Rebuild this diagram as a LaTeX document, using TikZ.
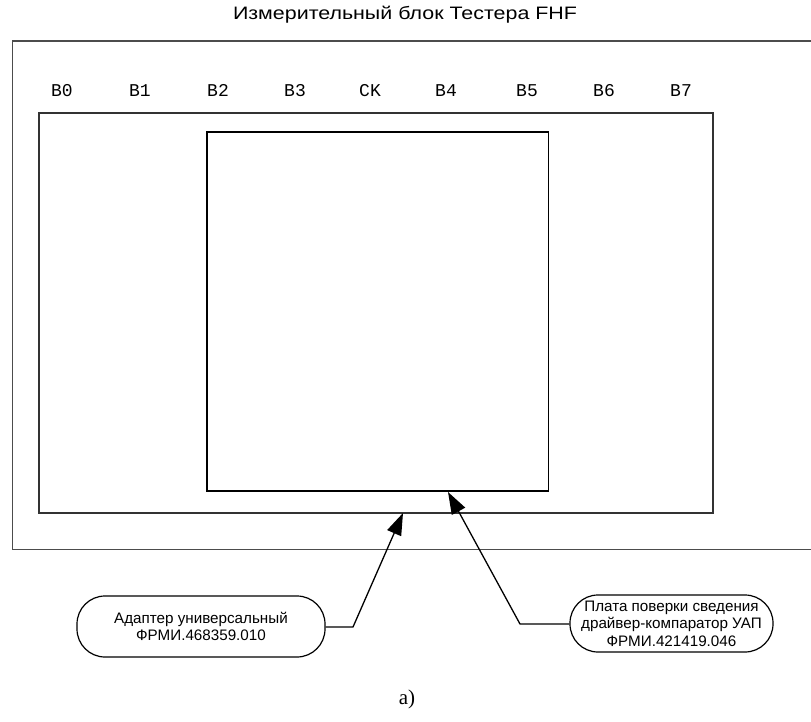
\documentclass[tikz,border=0pt]{standalone}
\usepackage{fontspec}
\setmainfont{Liberation Serif}
\newfontfamily\sansf{Liberation Sans}
\newfontfamily\monof{Liberation Mono}
\usetikzlibrary{arrows.meta}
\begin{document}
\begin{tikzpicture}[x=1pt,y=-1pt,
  frame/.style={line width=1.6pt,draw=black!70},
  midframe/.style={line width=1.4pt,draw=black!80},
  board/.style={line width=1.3pt,draw=black},
  pin/.style={font=\monof\fontsize{18}{18}\selectfont,inner sep=0pt,anchor=base},
  callout/.style={draw,line width=1.2pt,rounded corners=28pt,align=center,inner sep=0pt,
     font=\sansf\fontsize{15.2}{17.5}\selectfont},
  lead/.style={line width=1.3pt,-{Triangle[length=22pt,width=15pt]}}]
\useasboundingbox (0,0) rectangle (811,722);
\node[font=\sansf\fontsize{18}{20}\selectfont,xscale=1.19] (title) at (405,15) {Измерительный блок Тестера FHF};
% outer frame, open on the right
\draw[frame] (811,41) -- (12.5,41) -- (12.5,549.5) -- (811,549.5);
\draw[midframe] (39,113) rectangle (713,513);
\draw[board] (207,132) rectangle (548.5,491);
\coordinate (tipA) at (403,513);
\coordinate (tipB) at (448,492);
\foreach \n/\t/\x in {b0/B0/62,b1/B1/140,b2/B2/218,b3/B3/295,ck/CK/370,b4/B4/446,b5/B5/527,b6/B6/604,b7/B7/681}
  \node[pin] (\n) at (\x,97) {\t};
\node[callout,minimum width=248pt,minimum height=61pt] (ca) at (201,626.5)
  {Адаптер универсальный\\ФРМИ.468359.010};
\node[callout,minimum width=203pt,minimum height=57pt] (cb) at (671.5,623.5)
  {Плата поверки сведения\\драйвер-компаратор УАП\\ФРМИ.421419.046};
\coordinate (ka) at (353,627);
\coordinate (kb) at (520,624);
\draw[lead] (ca.east |- ka) -- (ka) -- (tipA);
\draw[lead] (cb.west |- kb) -- (kb) -- (tipB);
\node[font=\fontsize{21}{21}\selectfont] (lbl) at (407,699) {a)};
\end{tikzpicture}
\end{document}
